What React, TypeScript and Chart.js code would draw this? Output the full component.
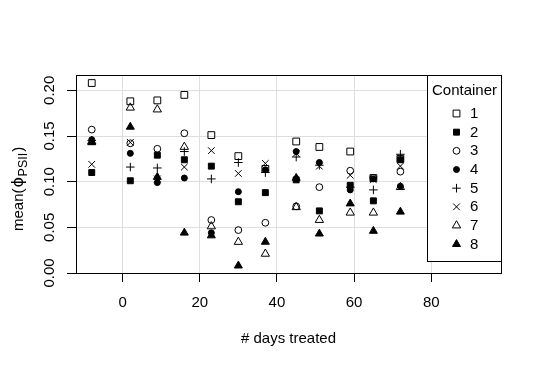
import React, { useEffect, useRef } from 'react';
import { Chart, registerables } from 'chart.js';
import { drawPoint } from 'chart.js/helpers';

Chart.register(...registerables);

// ---- data ----
const days = [-8, 2, 9, 16, 23, 30, 37, 45, 51, 59, 65, 72];
const container1 = [0.208, 0.188, 0.189, 0.195, 0.151, 0.128, 0.114, 0.144, 0.138, 0.133, 0.104, 0.125];
const container2 = [0.110, 0.101, 0.129, 0.124, 0.117, 0.078, 0.088, 0.102, 0.068, 0.096, 0.079, 0.124];
const container3 = [0.157, 0.142, 0.136, 0.153, 0.058, 0.047, 0.055, 0.073, 0.094, 0.112, 0.104, 0.111];
const container4 = [0.146, 0.131, 0.099, 0.104, 0.044, 0.089, 0.113, 0.133, 0.121, 0.091, 0.103, 0.095];
const container5 = [0.145, 0.116, 0.115, 0.133, 0.103, 0.121, 0.110, 0.127, 0.118, 0.094, 0.091, 0.130];
const container6 = [0.119, 0.143, 0.103, 0.116, 0.134, 0.109, 0.120, 0.131, 0.117, 0.107, 0.102, 0.117];
const container7 = [0.144, 0.181, 0.179, 0.138, 0.051, 0.034, 0.021, 0.072, 0.058, 0.066, 0.066, 0.094];
const container8 = [0.143, 0.160, 0.105, 0.044, 0.041, 0.008, 0.034, 0.104, 0.043, 0.076, 0.046, 0.067];
const containerLabels = ['1', '2', '3', '4', '5', '6', '7', '8'];
const legendTitle = 'Container';
const xTitle = '# days treated';
const xTickValues = [0, 20, 40, 60, 80];
const yTickValues = [0, 0.05, 0.1, 0.15, 0.2];
const xLimits = [-12.08, 98.08];
const yLimits = [0, 0.2168];

const FONT = '"Liberation Sans", Arial, sans-serif';

const markerStyles = [
  { style: 'rect', r: 4.8, fill: false },
  { style: 'rect', r: 4.2, fill: true },
  { style: 'circle', r: 3.4, fill: false },
  { style: 'circle', r: 3.0, fill: true },
  { style: 'cross', r: 4.3, fill: false },
  { style: 'crossRot', r: 4.7, fill: false },
  { style: 'triangle', r: 4.8, fill: false },
  { style: 'triangle', r: 4.6, fill: true },
];

const boxPlugin = {
  id: 'rbox',
  afterDatasetsDraw(chart: any) {
    const { ctx, chartArea } = chart;
    ctx.save();
    ctx.strokeStyle = '#000';
    ctx.lineWidth = 1;
    const l = Math.round(chartArea.left) + 0.5;
    const t = Math.round(chartArea.top) + 0.5;
    const r = Math.round(chartArea.right) + 0.5;
    const b = Math.round(chartArea.bottom) + 0.5;
    ctx.strokeRect(l, t, r - l, b - t);
    ctx.restore();
  },
};

const legendPlugin = {
  id: 'rlegend',
  afterDraw(chart: any) {
    const { ctx, chartArea } = chart;
    const right = Math.round(chartArea.right) + 0.5;
    const top = Math.round(chartArea.top) + 0.5;
    const w = 74;
    const h = 186;
    const left = right - w;
    ctx.save();
    ctx.fillStyle = '#fff';
    ctx.fillRect(left, top, w, h);
    ctx.strokeStyle = '#000';
    ctx.lineWidth = 1;
    ctx.strokeRect(left, top, w, h);
    ctx.fillStyle = '#000';
    ctx.font = `15px ${FONT}`;
    ctx.textAlign = 'center';
    ctx.textBaseline = 'middle';
    ctx.fillText(legendTitle, left + w / 2, top + 15);
    ctx.textAlign = 'left';
    chart.data.datasets.forEach((ds: any, i: number) => {
      const y = top + 38 + i * 18.67;
      ctx.save();
      ctx.strokeStyle = '#000';
      ctx.fillStyle = ds.backgroundColor;
      ctx.lineWidth = 1;
      drawPoint(ctx, { pointStyle: ds.pointStyle, radius: ds.pointRadius, rotation: 0, borderWidth: 1 } as any, left + 29, y);
      ctx.restore();
      ctx.fillStyle = '#000';
      ctx.fillText(ds.label, left + 42.5, y + 0.5);
    });
    ctx.restore();
  },
};

// y-axis title with subscript, drawn bottom-to-top
const yTitlePlugin = {
  id: 'ytitle',
  afterDraw(chart: any) {
    const { ctx } = chart;
    const parts = [
      { t: 'mean(', f: `15px ${FONT}`, dy: 0, gap: 1 },
      { t: '\u03d5', f: `16px "DejaVu Sans", ${FONT}`, dy: 0, gap: 0.5 },
      { t: 'PSII', f: `12.5px ${FONT}`, dy: 3.5, gap: 1 },
      { t: ')', f: `15px ${FONT}`, dy: 0, gap: 0 },
    ];
    ctx.save();
    ctx.translate(18, 231);
    ctx.rotate(-Math.PI / 2);
    ctx.fillStyle = '#000';
    ctx.textBaseline = 'alphabetic';
    ctx.textAlign = 'left';
    let x = 0;
    parts.forEach((p) => {
      ctx.font = p.f;
      ctx.fillText(p.t, x, 5 + p.dy);
      x += ctx.measureText(p.t).width + p.gap;
    });
    ctx.restore();
  },
};

export default function App() {
  const ref = useRef<HTMLCanvasElement>(null);
  useEffect(() => {
    document.body.style.margin = '0';
    const canvas = ref.current!;
    const series = [container1, container2, container3, container4, container5, container6, container7, container8];
    const datasets = series.map((vals, i) => ({
      label: containerLabels[i],
      data: days.map((d, j) => ({ x: d, y: vals[j] })),
      pointStyle: markerStyles[i].style,
      pointRadius: markerStyles[i].r,
      pointHoverRadius: markerStyles[i].r,
      borderWidth: 1,
      borderColor: '#000',
      backgroundColor: markerStyles[i].fill ? '#000' : 'rgba(0,0,0,0)',
      showLine: false,
      order: 8 - i,
    }));
    const chart = new Chart(canvas, {
      type: 'scatter',
      data: { datasets } as any,
      options: {
        responsive: false,
        animation: false,
        devicePixelRatio: 1,
        layout: { padding: { left: 0, top: 75, right: 39, bottom: 0 } },
        plugins: { legend: { display: false }, tooltip: { enabled: false } },
        scales: {
          x: {
            type: 'linear',
            min: xLimits[0],
            max: xLimits[1],
            afterBuildTicks: (s: any) => {
              s.ticks = xTickValues.map((v) => ({ value: v }));
            },
            afterFit: (s: any) => {
              s.height = 96;
            },
            grid: { color: '#dedede', tickColor: '#000', tickLength: 9, lineWidth: 1 },
            border: { color: '#000', width: 1 },
            ticks: {
              font: { family: FONT, size: 15 },
              color: '#000',
              padding: 12,
              autoSkip: false,
              maxRotation: 0,
              callback: (v: any) => String(v),
            },
            title: {
              display: true,
              text: xTitle,
              font: { family: FONT, size: 15 },
              color: '#000',
              padding: { top: 0, bottom: 21 },
            },
          },
          y: {
            type: 'linear',
            min: yLimits[0],
            max: yLimits[1],
            afterBuildTicks: (s: any) => {
              s.ticks = yTickValues.map((v) => ({ value: v }));
            },
            afterFit: (s: any) => {
              s.width = 76;
            },
            grid: { color: '#dedede', tickColor: '#000', tickLength: 9, lineWidth: 1 },
            border: { color: '#000', width: 1 },
            ticks: {
              font: { family: FONT, size: 15 },
              color: '#000',
              padding: 2.5,
              autoSkip: false,
              minRotation: 90,
              maxRotation: 90,
              crossAlign: 'center',
              callback: (v: any) => Number(v).toFixed(2),
            },
          },
        },
      } as any,
      plugins: [boxPlugin, legendPlugin, yTitlePlugin],
    });
    return () => chart.destroy();
  }, []);
  return (
    <div style={{ width: 540, height: 369 }}>
      <canvas ref={ref} width={540} height={369} style={{ display: 'block', width: 540, height: 369 }} />
    </div>
  );
}
